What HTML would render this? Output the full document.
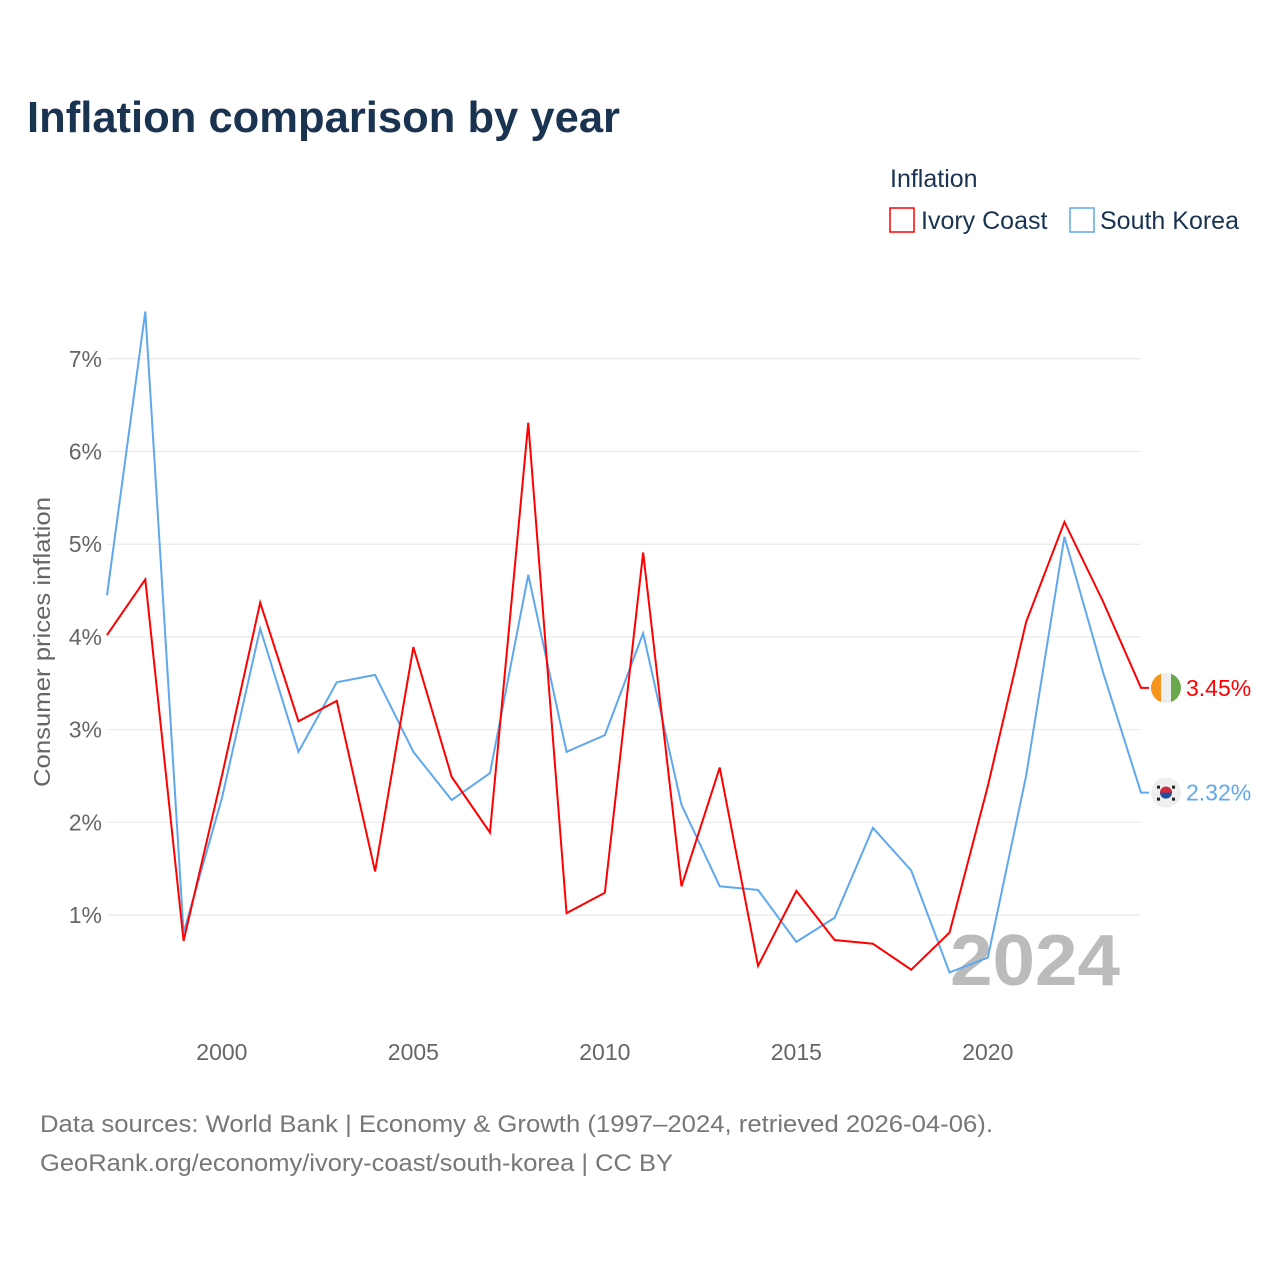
<!DOCTYPE html>
<html><head><meta charset="utf-8"><style>
body{margin:0;background:#fff;font-family:"Liberation Sans",sans-serif;}
#wrap{position:relative;width:1280px;height:1280px;overflow:hidden;}
</style></head><body>
<div id="wrap">
<svg id="chart" width="1280" height="1280">
<text x="27" y="132" font-size="44" font-weight="bold" fill="#1a3350" textLength="593" lengthAdjust="spacingAndGlyphs">Inflation comparison by year</text>
<text x="890" y="187" font-size="25" fill="#1a3350">Inflation</text>
<g><rect x="890" y="208" width="24" height="24" fill="none" stroke="#ff0000" stroke-width="1.5"/><text x="921" y="229" font-size="25" fill="#1a3350">Ivory Coast</text></g>
<g><rect x="1070" y="208" width="24" height="24" fill="none" stroke="#5fa8ee" stroke-width="1.5"/><text x="1100" y="229" font-size="25" fill="#1a3350">South Korea</text></g>
<text transform="translate(50,642) rotate(-90)" text-anchor="middle" font-size="23" fill="#666" textLength="290" lengthAdjust="spacingAndGlyphs">Consumer prices inflation</text>
<text x="950" y="985" font-size="72" font-weight="bold" fill="#bbb" textLength="170" lengthAdjust="spacingAndGlyphs">2024</text>
<g id="grid"></g><g id="lines"></g>
<text x="40" y="1132" font-size="24" fill="#777" textLength="953" lengthAdjust="spacingAndGlyphs">Data sources: World Bank | Economy &amp; Growth (1997–2024, retrieved 2026-04-06).</text>
<text x="40" y="1171" font-size="24" fill="#777" textLength="633" lengthAdjust="spacingAndGlyphs">GeoRank.org/economy/ivory-coast/south-korea | CC BY</text>
</svg></div>
<script>
const years=[1997,1998,1999,2000,2001,2002,2003,2004,2005,2006,2007,2008,2009,2010,2011,2012,2013,2014,2015,2016,2017,2018,2019,2020,2021,2022,2023,2024];
const ivoryCoast=[4.02,4.62,0.72,2.5,4.37,3.09,3.31,1.47,3.89,2.49,1.89,6.31,1.02,1.24,4.91,1.31,2.59,0.45,1.26,0.73,0.69,0.41,0.81,2.39,4.16,5.24,4.39,3.45];
const southKorea=[4.45,7.51,0.81,2.26,4.09,2.76,3.51,3.59,2.76,2.24,2.53,4.67,2.76,2.94,4.04,2.19,1.31,1.27,0.71,0.97,1.94,1.48,0.38,0.54,2.50,5.08,3.63,2.32];
const yTicks=[1,2,3,4,5,6,7];
const xTicks=[2000,2005,2010,2015,2020];
const X=y=>107+(y-1997)*(1141-107)/27;
const Y=v=>1007.7-v*92.7;
const NS="http://www.w3.org/2000/svg";
const g=document.getElementById('grid'),L=document.getElementById('lines');
function mk(t,a,p){const e=document.createElementNS(NS,t);for(const k in a)e.setAttribute(k,a[k]);p.appendChild(e);return e;}
yTicks.forEach(t=>{
 const l=mk('line',{x1:107,x2:1141,y1:Y(t),y2:Y(t),stroke:'#e6e6e6','stroke-width':1},g);
 
 
 const s=mk('text',{x:102,y:Y(t)+8,'text-anchor':'end','font-size':23,fill:'#666'},g);s.textContent=t+'%';
 
 
});
xTicks.forEach(t=>{
 const s=mk('text',{x:X(t),y:1060,'text-anchor':'middle','font-size':23,fill:'#666'},g);s.textContent=t;
 
 
});
function series(vals,color,name,flag){
 const pts=vals.map((v,i)=>X(years[i])+','+Y(v));
 const last=vals[vals.length-1];
 pts.push((X(2024)+8)+','+Y(last));
 const p=mk('polyline',{points:pts.join(' '),fill:'none',stroke:color,'stroke-width':2},L);
 
 
 const fg=mk('g',{},L);
 
 
 const cx=1166,cy=Y(last);
 if(flag==='ci'){
  mk('clipPath',{id:'cc'},fg);mk('circle',{cx,cy,r:15},fg.firstChild);
  mk('rect',{x:cx-15,y:cy-15,width:10,height:30,fill:'#f7941d','clip-path':'url(#cc)'},fg);
  mk('rect',{x:cx-5,y:cy-15,width:10,height:30,fill:'#eee','clip-path':'url(#cc)'},fg);
  mk('rect',{x:cx+5,y:cy-15,width:10,height:30,fill:'#6aa84f','clip-path':'url(#cc)'},fg);
 }else{
  mk('circle',{cx,cy,r:15,fill:'#eee'},fg);
  mk('circle',{cx,cy,r:6,fill:'#1f4fa0'},fg);
  mk('path',{d:`M${cx-6},${cy} A6,6 0 0 1 ${cx+6},${cy} Z`,fill:'#d62839'},fg);
  [[-9,-7],[6,-7],[-9,5],[6,5]].forEach(d=>mk('rect',{x:cx+d[0],y:cy+d[1],width:3,height:3,fill:'#222'},fg));
 }
 const t=mk('text',{x:1186,y:Y(last)+8,'font-size':23,fill:color},L);t.textContent=last.toFixed(2)+'%';
 
 
}
series(southKorea,'#5fa8ee','south-korea','kr');
series(ivoryCoast,'#ff0000','ivory-coast','ci');
</script></body></html>
